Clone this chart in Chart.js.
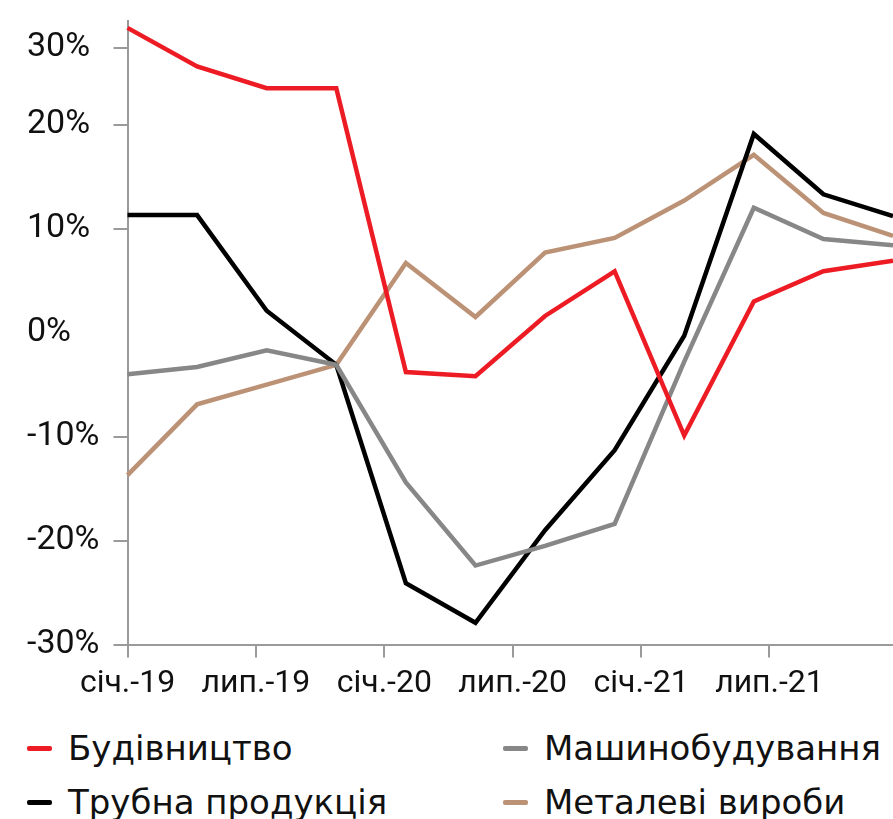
<!DOCTYPE html>
<html>
<head>
<meta charset="utf-8">
<script src="https://cdn.jsdelivr.net/npm/chart.js@4.4.1/dist/chart.umd.min.js"></script>
<style>
  body { margin: 0; background: #fff; width: 893px; height: 819px; overflow: hidden; position: relative; font-family: Roboto, sans-serif; }
  #box { position: absolute; left: 0; top: 0; width: 893px; height: 710px; }
  .leg { position: absolute; font-family: "DejaVu Sans", sans-serif; font-size: 34px; color: #111; white-space: nowrap; line-height: 36px; }
  .leg i { display: inline-block; width: 25px; height: 5px; border-radius: 2px; vertical-align: middle; margin-right: 16px; position: relative; top: -2px; }
</style>
</head>
<body>
<div id="box"><canvas id="myChart"></canvas></div>
<div id="legend"></div>
<script>
// quarters from січ.-19
let quarters = ['I-19', 'II-19', 'III-19', 'IV-19', 'I-20', 'II-20', 'III-20', 'IV-20', 'I-21', 'II-21', 'III-21', 'IV-21'];

let budivnytstvo = [29.3, 25.6, 23.5, 23.5, -3.8, -4.2, 1.6, 5.9, -9.9, 3.0, 5.9, 6.9];
let mashynobuduvannia = [-4.0, -3.3, -1.7, -3.1, -14.4, -22.4, -20.5, -18.4, -2.8, 12.0, 9.0, 8.4];
let trubna = [11.3, 11.3, 2.1, -3.1, -24.1, -27.9, -19.0, -11.3, -0.3, 19.1, 13.3, 11.2];
let metalevi = [-13.7, -6.9, -5.0, -3.1, 6.7, 1.5, 7.7, 9.1, 12.7, 17.1, 11.5, 9.3];

let seriesNames = ['Будівництво', 'Машинобудування', 'Трубна продукція', 'Металеві вироби'];
let seriesColors = ['#ED1C24', '#878787', '#000000', '#BC9276'];

let xTickPos = [0, 1.845, 3.69, 5.535, 7.38, 9.225];
let xTickLabels = ['січ.-19', 'лип.-19', 'січ.-20', 'лип.-20', 'січ.-21', 'лип.-21'];
let yTickPos = [-30, -20, -10, 0, 10, 20, 27.4];
let yTickLabels = ['-30%', '-20%', '-10%', '0%', '10%', '20%', '30%'];

function toPoints(arr){
	return arr.map(function(v, i){ return {x: i, y: v}; });
}

let allSeries = [budivnytstvo, mashynobuduvannia, trubna, metalevi];
let datasets = [];
for (var i = 0; i < allSeries.length; i++) {
	datasets.push({
		label: seriesNames[i],
		data: toPoints(allSeries[i]),
		borderColor: seriesColors[i],
		backgroundColor: seriesColors[i],
		borderWidth: 4.5,
		pointRadius: 0,
		tension: 0,
		clip: false
	});
}

let axisGray = '#9a9a9a';
let ctx = document.getElementById('myChart').getContext('2d');
let chart = new Chart(ctx, {
	type: 'line',
	data: { datasets: datasets },
	options: {
		responsive: true,
		maintainAspectRatio: false,
		animation: false,
		layout: { padding: { left: 27, right: 0, top: 0, bottom: 0 } },
		plugins: { legend: { display: false }, tooltip: { enabled: false } },
		scales: {
			x: {
				type: 'linear',
				min: 0,
				max: quarters.length - 1,
				afterBuildTicks: function(axis){
					axis.ticks = xTickPos.map(function(v){ return {value: v}; });
				},
				ticks: {
					autoSkip: false,
					maxRotation: 0,
					padding: 7,
					color: '#111',
					font: { family: 'Roboto', size: 32 },
					callback: function(value, index){ return xTickLabels[index]; }
				},
				grid: { display: true, drawOnChartArea: false, drawTicks: true, tickLength: 13, color: axisGray, lineWidth: 2 },
				border: { display: true, color: axisGray, width: 2 }
			},
			y: {
				min: -30,
				max: 30,
				afterBuildTicks: function(axis){
					axis.ticks = yTickPos.map(function(v){ return {value: v}; });
				},
				ticks: {
					crossAlign: 'far',
					padding: 7,
					color: '#111',
					font: { family: 'Roboto', size: 34, lineHeight: 0.8 },
					callback: function(value, index){ return yTickLabels[index]; }
				},
				grid: {
					display: true, drawOnChartArea: false, drawTicks: true, tickLength: 14, lineWidth: 2,
					color: function(c){ return (c.tick && c.tick.value === 0) ? 'rgba(0,0,0,0)' : axisGray; }
				},
				border: { display: true, color: axisGray, width: 2 }
			}
		}
	}
});

// legend, two columns like the original
let legendPos = [[27, 730], [503, 730], [27, 784], [503, 784]];
let legendHtml = '';
for (var j = 0; j < seriesNames.length; j++) {
	legendHtml += '<div class="leg" style="left:' + legendPos[j][0] + 'px;top:' + legendPos[j][1] + 'px"><i style="background:' + seriesColors[j] + '"></i>' + seriesNames[j] + '</div>';
}
document.getElementById('legend').innerHTML = legendHtml;
</script>
</body>
</html>
